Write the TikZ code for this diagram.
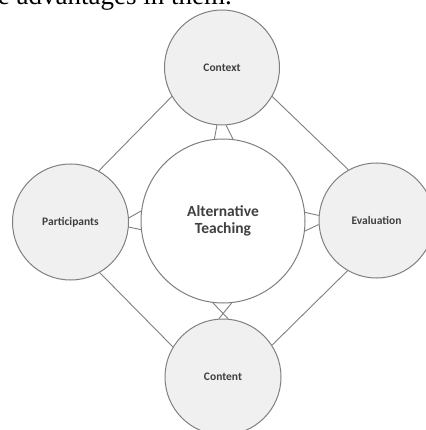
\documentclass[tikz,border=0pt]{standalone}
\usepackage{fontspec}
\setmainfont{Liberation Serif}
\newfontfamily\carlito{Carlito}
\definecolor{linegray}{HTML}{7F7F7F}
\definecolor{fillgray}{HTML}{F0F0F0}
\definecolor{textgray}{HTML}{404040}
\begin{document}
\begin{tikzpicture}[x=1pt,y=1pt,
  sat/.style={circle,draw=linegray,line width=1pt,fill=fillgray,inner sep=0pt,
    font=\carlito\bfseries\fontsize{11.5}{13}\selectfont,text=textgray},
  hub/.style={circle,draw=linegray,line width=1pt,fill=white,inner sep=0pt,
    align=center,font=\carlito\bfseries\fontsize{15.5}{17.5}\selectfont,text=textgray},
  link/.style={draw=linegray,line width=0.9pt}]
\useasboundingbox (0,0) rectangle (425,-430);
\begin{scope}
\clip (0,0) rectangle (425,-20);
\node[anchor=base east,inner sep=0pt,font=\fontsize{27}{30}\selectfont] (top) at (232,-5) {re advantages in them.};
\end{scope}
% satellites
\node[sat,minimum size=115pt] (ctx) at (222,-67.5) {Context};
\node[sat,minimum size=116pt] (par) at (70.5,-222) {Participants};
\node[sat,minimum size=115pt] (eva) at (376.5,-220.5) {Evaluation};
\node[sat,minimum size=116pt] (con) at (223,-377) {Content};
\node[hub,minimum size=164pt] (ctr) at (223,-221) {Alternative\\Teaching};
% outer links
\draw[link] (ctx.210) -- (par.61);
\draw[link] (ctx.330) -- (eva.119);
\draw[link] (eva.240) -- (con.33);
\draw[link] (con.149) -- (par.300);
% trapezoid links
\draw[link] (ctx.265.5) -- (ctr.96.3);
\draw[link] (ctx.274.5) -- (ctr.83.7);
\draw[link] (con.85.5) -- (ctr.263.7);
\draw[link] (con.94.5) -- (ctr.276.3);
\draw[link] (par.4.5) -- (ctr.173.7);
\draw[link] (par.355.5) -- (ctr.186.3);
\draw[link] (eva.175.5) -- (ctr.6.3);
\draw[link] (eva.184.5) -- (ctr.353.7);
\end{tikzpicture}
\end{document}
